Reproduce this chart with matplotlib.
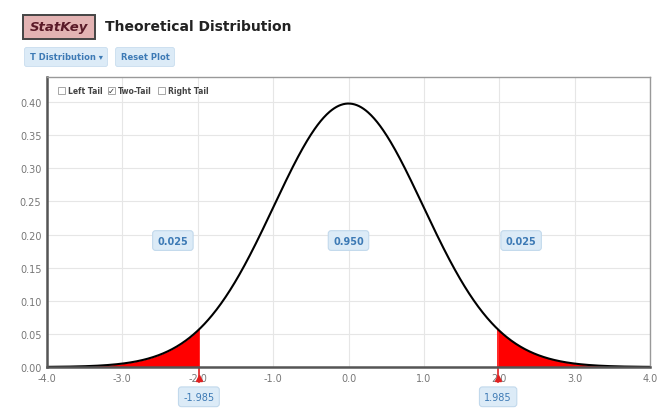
import math
import numpy as np
import matplotlib.pyplot as plt
from matplotlib.patches import FancyBboxPatch

# -------------------------------
# data
# -------------------------------
DF = 96                      # degrees of freedom (t crit 1.985)
T_CRIT = [-1.985, 1.985]
AREAS = ["0.025", "0.950", "0.025"]
AREA_X = [-2.33, 0.0, 2.29]
AREA_Y = 0.191
X_TICKS = [-4.0, -3.0, -2.0, -1.0, 0.0, 1.0, 2.0, 3.0, 4.0]
Y_TICKS = [0.00, 0.05, 0.10, 0.15, 0.20, 0.25, 0.30, 0.35, 0.40]


def t_pdf(x, df):
    c = math.exp(math.lgamma((df + 1) / 2) - math.lgamma(df / 2)) / math.sqrt(df * math.pi)
    return c * (1 + x ** 2 / df) ** (-(df + 1) / 2)


xs = np.linspace(-4.0, 4.0, 801)
ys = t_pdf(xs, DF)

# -------------------------------
# figure
# -------------------------------
fig = plt.figure(figsize=(6.57, 4.10), dpi=100)
W, H = 657, 410
ax = fig.add_axes([47 / W, 1 - 368 / H, (650 - 47) / W, (368 - 78) / H])

ax.set_xlim(-4.0, 4.0)
ax.set_ylim(0, 0.438)
ax.set_xticks(X_TICKS)
ax.set_xticklabels([f"{v:.1f}" for v in X_TICKS])
ax.set_yticks(Y_TICKS)
ax.set_yticklabels([f"{v:.2f}" for v in Y_TICKS])
ax.tick_params(length=0, labelsize=7, labelcolor="#777777", pad=4)
ax.grid(color="#e6e6e6", lw=0.8)
ax.set_axisbelow(True)
for s in ["top", "right"]:
    ax.spines[s].set_color("#999999")
    ax.spines[s].set_linewidth(1)
for s in ["left", "bottom"]:
    ax.spines[s].set_color("#555555")
    ax.spines[s].set_linewidth(1.8)

# tails
left = xs <= T_CRIT[0]
right = xs >= T_CRIT[1]
ax.fill_between(xs[left], 0, ys[left], color="#ff0000", lw=0)
ax.fill_between(xs[right], 0, ys[right], color="#ff0000", lw=0)
for t in T_CRIT:
    ax.plot([t, t], [0, t_pdf(t, DF)], color="#ff0000", lw=1.2)
ax.plot(xs, ys, color="black", lw=1.5)

# red markers on axis
for t in T_CRIT:
    ax.plot([t, t], [0, -0.022], color="#e02020", lw=1.2, clip_on=False)
    ax.plot(t, -0.016, marker="^", ms=5, color="#e02020", clip_on=False)

box = dict(boxstyle="round,pad=0.5,rounding_size=0.3", fc="#dcebf7", ec="#c2d9ec", lw=0.8)
for x, lab in zip(AREA_X, AREAS):
    ax.text(x, AREA_Y, lab, ha="center", va="center", fontsize=7, color="#3d7ab5",
            fontweight="bold", bbox=box)
for t in T_CRIT:
    ax.text(t, -0.045, f"{t:.3f}", ha="center", va="center", fontsize=7, color="#3d7ab5",
            bbox=dict(boxstyle="round,pad=0.5,rounding_size=0.3", fc="#dcebf7", ec="#c2d9ec", lw=0.8),
            clip_on=False)

# checkboxes
cb_y = 1 - 91 / H
for x0, lab, checked in [(58, "Left Tail", False), (108, "Two-Tail", True), (158, "Right Tail", False)]:
    fig.patches.append(plt.Rectangle((x0 / W, cb_y - 3.5 / H), 7 / W, 7 / H, transform=fig.transFigure,
                                     fc="white", ec="#999999", lw=0.6))
    if checked:
        fig.text((x0 + 3.5) / W, cb_y, "\u2713", ha="center", va="center", fontsize=6, color="#333333")
    fig.text((x0 + 10) / W, cb_y, lab, ha="left", va="center", fontsize=5.5, color="#444444",
             fontweight="bold")

# header
fig.patches.append(FancyBboxPatch((23 / W, 1 - 40 / H), 72 / W, 24 / H, transform=fig.transFigure,
                                  boxstyle="square,pad=0", fc="#e3b3b3", ec="#444444", lw=1.4))
fig.text(59 / W, 1 - 28 / H, "StatKey", ha="center", va="center", fontsize=9.5, fontstyle="italic",
         fontweight="bold", color="#5a1a28")
fig.text(105 / W, 1 - 27 / H, "Theoretical Distribution", ha="left", va="center", fontsize=10,
         fontweight="bold", color="#222222")

btn = dict(boxstyle="round,pad=0.6,rounding_size=0.25", fc="#dcebf7", ec="#c8ddef", lw=0.6)
fig.text(66 / W, 1 - 58 / H, "T Distribution \u25be", ha="center", va="center", fontsize=6,
         color="#3d7ab5", fontweight="bold", bbox=btn)
fig.text(145 / W, 1 - 58 / H, "Reset Plot", ha="center", va="center", fontsize=6,
         color="#3d7ab5", fontweight="bold", bbox=btn)

fig.savefig("out.png", dpi=100)
